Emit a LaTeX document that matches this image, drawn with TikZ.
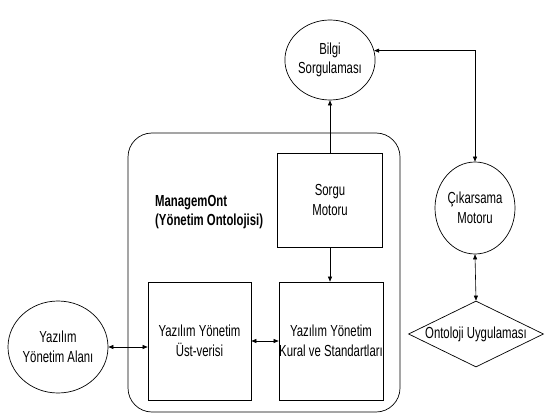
\documentclass[tikz,border=0pt]{standalone}
\usepackage{fontspec}
\setmainfont[FakeStretch=0.71]{Liberation Sans}
\usetikzlibrary{shapes.geometric,arrows.meta}
\begin{document}
\begin{tikzpicture}[x=1pt,y=-1pt,
  every node/.style={font=\fontsize{16}{19.5}\selectfont, align=center, inner sep=0pt},
  ell/.style={draw, ellipse, line width=0.7pt},
  boxn/.style={draw, rectangle, line width=0.7pt},
  tip/.style={line width=0.6pt},
  conn/.style={tip, -{Triangle[length=5pt,width=4pt]}},
  dconn/.style={tip, {Triangle[length=5pt,width=4pt]}-{Triangle[length=5pt,width=4pt]}}]
\useasboundingbox (0,0) rectangle (546,417);
% container
\node[draw, rounded corners=24pt, minimum width=272pt, minimum height=279pt, line width=0.7pt] (mo) at (264,272.5) {};
\node[anchor=west, align=left, font=\bfseries\fontsize{16}{19}\selectfont] (molabel) at (155,212) {ManagemOnt\\(Yönetim Ontolojisi)};
% boxes
\node[boxn, minimum width=105pt, minimum height=94pt] (sorgu) at (330,200) {Sorgu\\Motoru};
\node[boxn, minimum width=103pt, minimum height=118pt] (ust) at (199.5,341) {Yazılım Yönetim\\Üst-verisi};
\node[boxn, minimum width=104pt, minimum height=118pt] (kural) at (331,341) {Yazılım Yönetim\\Kural ve Standartları};
% ellipses
\node[ell, minimum width=82pt, minimum height=80pt] (bilgi) at (330,60) {Bilgi\\Sorgulaması};
\node[ell, minimum width=80pt, minimum height=92pt] (alan) at (58,347) {Yazılım\\Yönetim Alanı};
\node[ell, minimum width=80pt, minimum height=92pt] (cik) at (475,208) {Çıkarsama\\Motoru};
\node[draw, diamond, aspect=2.1, line width=0.7pt, minimum width=135pt, minimum height=66pt] (dia) at (476,334) {Ontoloji Uygulaması};
% connectors
\draw[conn] (sorgu.north) -- (sorgu.north |- bilgi.south);
\draw[conn] (sorgu.south) -- (sorgu.south |- kural.north);
\draw[dconn] (bilgi.12) -| (cik.north);
\draw[dconn] (cik.south) -- (dia.north);
\draw[dconn] (alan.east) -- (alan.east -| ust.west);
\draw[dconn] (ust.east) -- (kural.west);
\end{tikzpicture}
\end{document}
